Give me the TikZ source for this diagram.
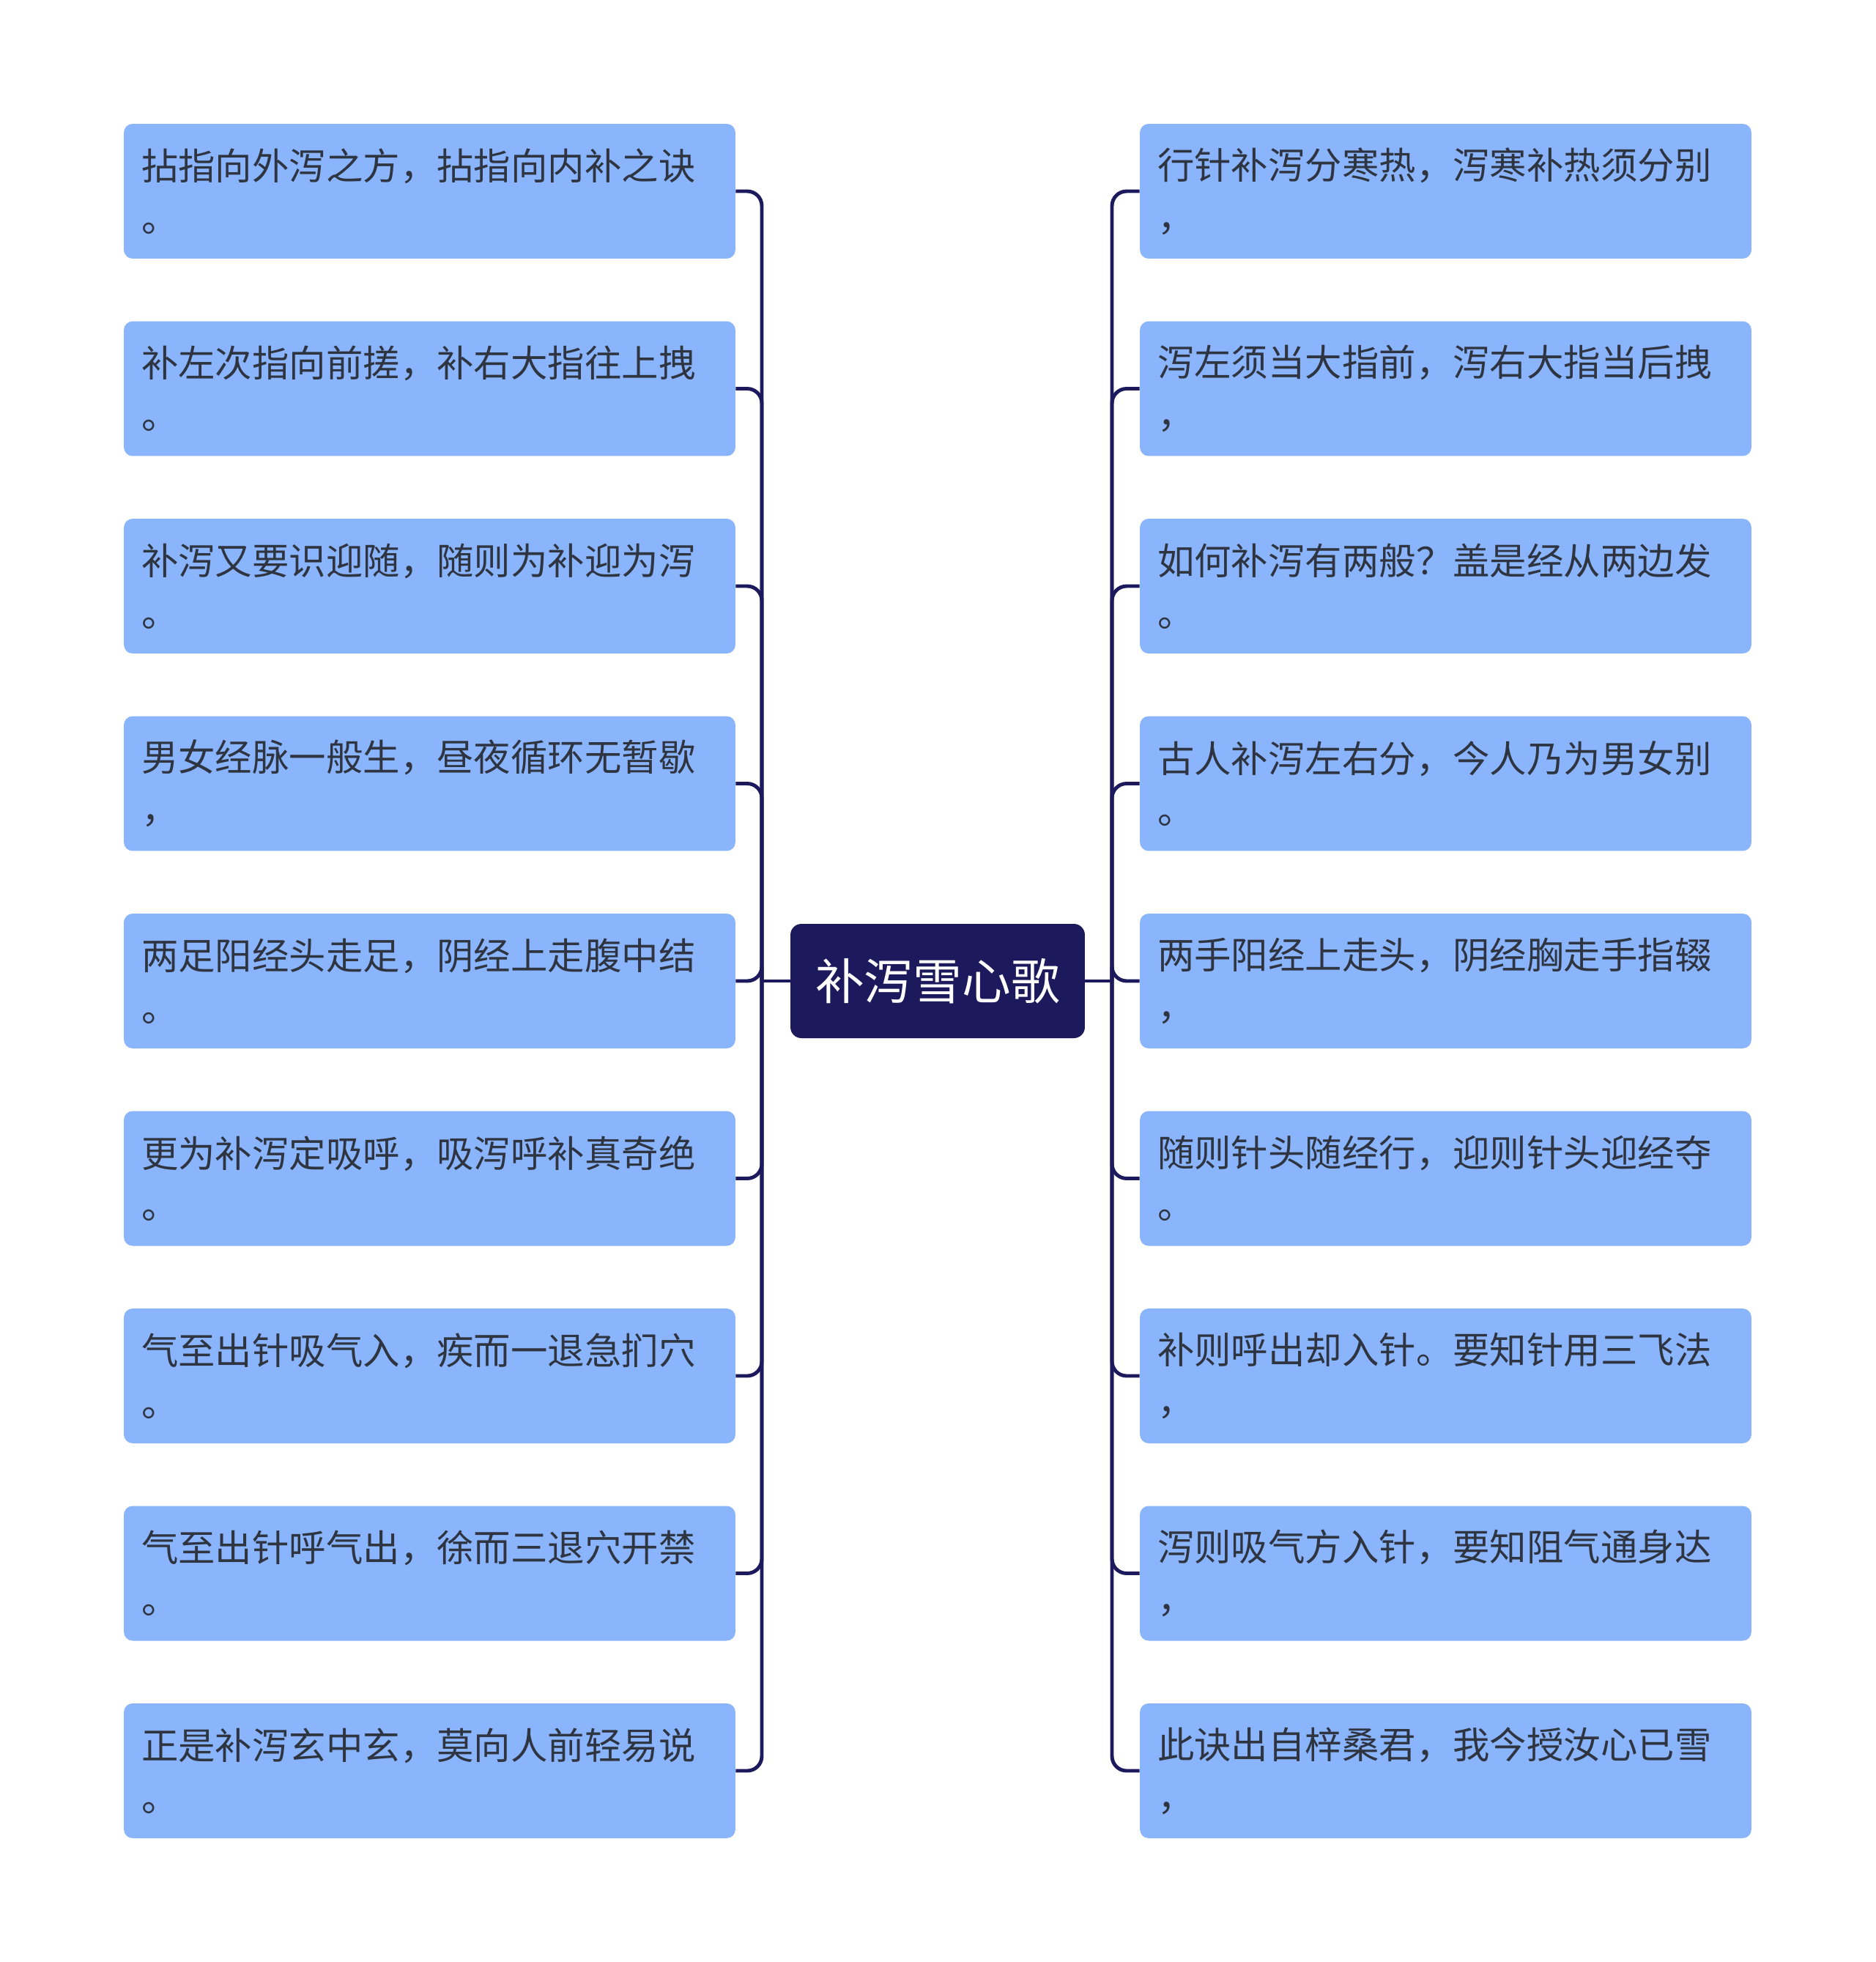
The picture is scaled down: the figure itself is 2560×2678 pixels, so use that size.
\documentclass[tikz,border=0pt]{standalone}
\usepackage{fontspec}
\setmainfont{Noto Sans CJK SC}
\usepackage{tikz}
\usetikzlibrary{positioning, calc}
\definecolor{boxfill}{HTML}{8AB4FC}
\definecolor{boxtext}{HTML}{2E3440}
\definecolor{rootfill}{HTML}{1C1A5C}
\definecolor{linkcol}{HTML}{1C1A5C}
\tikzset{
  verse/.style={fill=boxfill, text=boxtext, rounded corners=0.24cm,
    minimum width=16.7cm, minimum height=3.68cm, text width=15.74cm,
    inner xsep=0.48cm, align=left,
    font=\fontsize{28.7}{40.3}\selectfont},
  title/.style={fill=rootfill, text=white, rounded corners=0.3cm,
    minimum width=8.04cm, minimum height=3.12cm,
    font=\fontsize{38}{46}\selectfont},
  link/.style={draw=linkcol, line width=2.8pt, rounded corners=0.4cm}
}
\begin{document}
\begin{tikzpicture}[x=0.02cm, y=-0.02cm]
  \useasboundingbox (0,0) rectangle (2560,2678);
  \node[title] (root) at (1280,1339) {补泻雪心歌};
  \coordinate (lhub) at (1040,1339);
  \coordinate (rhub) at (1518,1339);
  % left side
  \foreach \i/\txt/\pun in {
    1/拈指向外泻之方，拈指向内补之诀/。,
    2/补左次指向前搓，补右大指往上拽/。,
    3/补泻又要识迎随，随则为补迎为泻/。,
    4/男女经脉一般生，昼夜循环无暂歇/，,
    5/两足阳经头走足，阴经上走腹中结/。,
    6/更为补泻定吸呼，吸泻呼补真奇绝/。,
    7/气至出针吸气入，疾而一退急扪穴/。,
    8/气至出针呼气出，徐而三退穴开禁/。,
    9/正是补泻玄中玄，莫向人前轻易说/。
  } {
    \node[verse] (L\i) at (586.5, {261+(\i-1)*269.5}) {\txt\\\pun};
    \draw[link] (lhub) |- (L\i.east);
  }
  % right side
  \foreach \i/\txt/\pun in {
    1/行针补泻分寒热，泻寒补热须分别/，,
    2/泻左须当大指前，泻右大指当后拽/，,
    3/如何补泻有两般？盖是经从两边发/。,
    4/古人补泻左右分，今人乃为男女别/。,
    5/两手阳经上走头，阴经胸走手指辍/，,
    6/随则针头随经行，迎则针头迎经夺/。,
    7/补则呼出却入针。要知针用三飞法/，,
    8/泻则吸气方入针，要知阻气通身达/，,
    9/此诀出自梓桑君，我今授汝心已雪/，
  } {
    \node[verse] (R\i) at (1973.5, {261+(\i-1)*269.5}) {\txt\\\pun};
    \draw[link] (rhub) |- (R\i.west);
  }
  \draw[link] (root.west) -- (lhub);
  \draw[link] (root.east) -- (rhub);
\end{tikzpicture}
\end{document}
